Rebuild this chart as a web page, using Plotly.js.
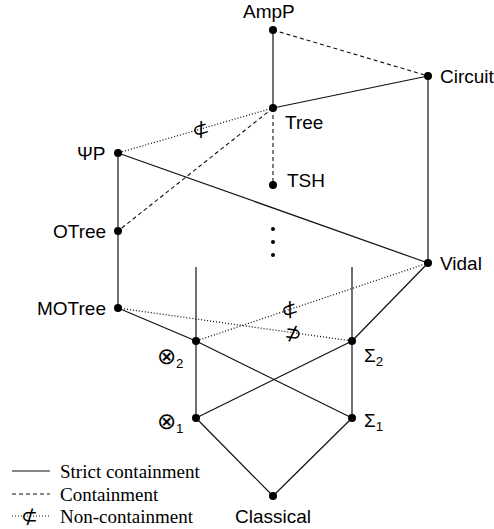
<!DOCTYPE html>
<html><head><meta charset="utf-8">
<script src="https://cdn.plot.ly/plotly-3.0.1.min.js"></script>
<style>html,body{margin:0;padding:0;background:#fff}</style>
</head><body><div id="chart" style="width:494px;height:529px"></div>
<script>
// Nodes of the Hasse diagram (diagram coordinates)
const nodeNames = ["AmpP","Circuit","Tree","PsiP","TSH","OTree","Vidal","MOTree","Otimes2","Sigma2","Otimes1","Sigma1","Classical","Stub1","Stub2"];
const nodeX     = [273, 428, 273, 118, 273, 118, 428, 118, 196, 352, 196, 352, 273, 196, 352];
const nodeY     = [30,  76,  108, 153, 185, 231, 263, 308, 341, 341, 418, 418, 496, 267, 267];
const nodeShown = [1,1,1,1,1,1,1,1,1,1,1,1,1,0,0];
const nodeLabels = ["AmpP","Circuit","Tree","ΨP","TSH","OTree","Vidal","MOTree",
  "<span style='font-size:23px'>⊗</span><sub>2</sub>","Σ<sub>2</sub>",
  "<span style='font-size:23px'>⊗</span><sub>1</sub>","Σ<sub>1</sub>","Classical","",""];
const labelPos   = ["top","right","below-right","left","up-right","left","right","left","below-left","below-right2","left-low","right-low","bottom","",""];

// Edges
const strictEdges = [["AmpP","Tree"],["Tree","Circuit"],["Circuit","Vidal"],["PsiP","OTree"],["OTree","MOTree"],["PsiP","Vidal"],["Vidal","Sigma2"],["MOTree","Otimes2"],["Otimes2","Sigma1"],["Otimes1","Sigma2"],["Otimes2","Otimes1"],["Sigma2","Sigma1"],["Otimes1","Classical"],["Sigma1","Classical"],["Otimes2","Stub1"],["Sigma2","Stub2"]];
const containEdges = [["AmpP","Circuit"],["Tree","TSH"],["Tree","OTree"]];
const nonContainEdges = [["Tree","PsiP"],["Vidal","Otimes2"],["MOTree","Sigma2"]];
const nonContainSymbols = ["⊄","⊄","⊅"];
const nonContainFrac = [0.47, 0.595, 0.75];

// Ellipsis dots
const ellipsisX = [273, 273, 273];
const ellipsisY = [229, 242, 255];

// Legend
const legendLabels = ["Strict containment","Containment","Non-containment"];
const legendDash = ["solid","4px,3px","1px,2px"];

const idx = n => nodeNames.indexOf(n);
function edgeTrace(edges, dash, w){
  const x=[], y=[];
  edges.forEach(([a,b])=>{ x.push(nodeX[idx(a)], nodeX[idx(b)], null); y.push(nodeY[idx(a)], nodeY[idx(b)], null); });
  return {type:"scatter", mode:"lines", x, y, line:{color:"#111", width:w, dash}, hoverinfo:"skip", showlegend:false};
}
const traces = [
  edgeTrace(strictEdges, "solid", 1.2),
  edgeTrace(containEdges, "4px,3px", 1.1),
  edgeTrace(nonContainEdges, "1px,2px", 1.3),
  {type:"scatter", mode:"markers", x:nodeX.filter((v,i)=>nodeShown[i]), y:nodeY.filter((v,i)=>nodeShown[i]),
   marker:{color:"#000", size:8}, hoverinfo:"skip", showlegend:false},
  {type:"scatter", mode:"markers", x:ellipsisX, y:ellipsisY, marker:{color:"#000", size:4}, hoverinfo:"skip", showlegend:false}
];

// legend line traces
const legX0 = 12, legX1 = 50, legY = [471, 494, 516];
legendLabels.forEach((l,i)=>{
  traces.push({type:"scatter", mode:"lines", x:[legX0,legX1], y:[legY[i],legY[i]], line:{color:"#111", width:1.2, dash:legendDash[i]}, hoverinfo:"skip", showlegend:false});
});

const sans = {family:"Liberation Sans, Arial, sans-serif", size:19, color:"#000"};
const serif = {family:"Liberation Serif, Times New Roman, serif", size:19, color:"#000"};
const annotations = [];
const offsets = {
  "top":[0,-19,"center","middle",-4],
  "right":[10,0,"left","middle",0],
  "below-right":[10,14,"left","middle",0],
  "below-right2":[10,16,"left","middle",0],
  "left":[-10,0,"right","middle",0],
  "up-right":[12,-5,"left","middle",0],
  "below-left":[-11,16,"right","middle",0],
  "left-low":[-11,4,"right","middle",0],
  "right-low":[10,4,"left","middle",0],
  "bottom":[0,20,"center","middle",0]
};
nodeNames.forEach((n,i)=>{
  if(!nodeShown[i]) return;
  const o = offsets[labelPos[i]];
  annotations.push({x:nodeX[i], y:nodeY[i], xref:"x", yref:"y", text:nodeLabels[i], showarrow:false,
    xshift:o[0]+o[4], yshift:-o[1], xanchor:o[2], yanchor:o[3], font:sans});
});
nonContainEdges.forEach(([a,b],i)=>{
  const x0=nodeX[idx(a)], y0=nodeY[idx(a)], x1=nodeX[idx(b)], y1=nodeY[idx(b)];
  const f=nonContainFrac[i];
  let ang = Math.atan2(y1-y0, x1-x0)*180/Math.PI;
  if(ang>90) ang-=180; if(ang<-90) ang+=180;
  annotations.push({x:x0+(x1-x0)*f, y:y0+(y1-y0)*f, xref:"x", yref:"y", text:nonContainSymbols[i], showarrow:false,
    textangle:ang, font:{family:"DejaVu Sans, sans-serif", size:20, color:"#000"}, xanchor:"center", yanchor:"middle"});
});
legendLabels.forEach((l,i)=>{
  annotations.push({x:58, y:legY[i], xref:"x", yref:"y", text:l, showarrow:false, xanchor:"left", yanchor:"middle", font:serif});
});
annotations.push({x:(legX0+legX1)/2 - 2, y:legY[2], xref:"x", yref:"y", text:"⊄", showarrow:false, xanchor:"center", yanchor:"middle",
  font:{family:"DejaVu Sans, sans-serif", size:20, color:"#000"}});

const layout = {
  width:494, height:529, margin:{l:0,r:0,t:0,b:0}, paper_bgcolor:"#fff", plot_bgcolor:"#fff",
  xaxis:{range:[0,494], visible:false, fixedrange:true},
  yaxis:{range:[529,0], visible:false, fixedrange:true},
  showlegend:false, annotations
};
Plotly.newPlot("chart", traces, layout, {staticPlot:true, displayModeBar:false});
</script></body></html>
